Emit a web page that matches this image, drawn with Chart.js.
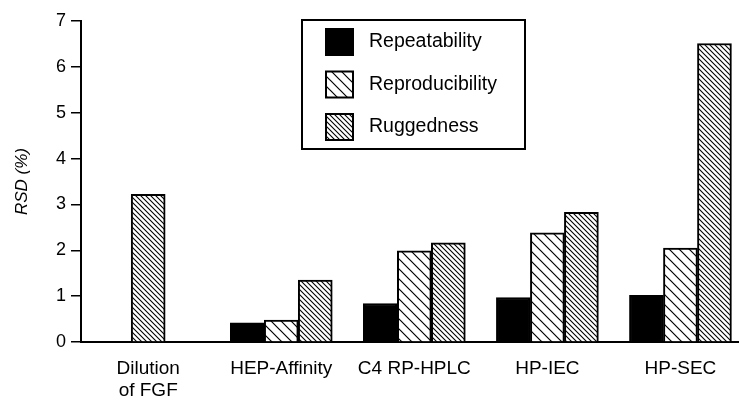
<!DOCTYPE html>
<html>
<head>
<meta charset="utf-8">
<script src="https://cdn.jsdelivr.net/npm/chart.js@4/dist/chart.umd.min.js"></script>
<style>
  html, body { margin: 0; padding: 0; background: #fff; overflow: hidden; }
  #wrap { width: 739px; height: 401px; position: relative; }
</style>
</head>
<body>
<div id="wrap"><canvas id="c"></canvas></div>
<script>
  // ---- data
  const categories = [['Dilution', 'of FGF'], 'HEP-Affinity', 'C4 RP-HPLC', 'HP-IEC', 'HP-SEC'];
  const repeatability   = [null, 0.42, 0.84, 0.97, 1.02];
  const reproducibility = [null, 0.48, 1.99, 2.38, 2.05];
  const ruggedness      = [3.22, 1.35, 2.16, 2.83, 6.51];
  const yTicks = [0, 1, 2, 3, 4, 5, 6, 7];

  const FONT = '"Liberation Sans", Arial, Helvetica, sans-serif';

  // Diagonal "\" hatch fill, spacing = tile size in px.
  function hatch(s, lw) {
    const c = document.createElement('canvas');
    c.width = c.height = s;
    const g = c.getContext('2d');
    g.fillStyle = '#fff';
    g.fillRect(0, 0, s, s);
    g.strokeStyle = '#000';
    g.lineWidth = lw;
    g.beginPath();
    g.moveTo(-1, -1); g.lineTo(s + 1, s + 1);
    g.moveTo(-1, s - 1); g.lineTo(1, s + 1);
    g.moveTo(s - 1, -1); g.lineTo(s + 1, 1);
    g.stroke();
    return g.createPattern(c, 'repeat');
  }

  const pts = (arr) => arr.map((v, i) => ({ x: i, y: v }));

  const datasets = [
    { label: 'Repeatability',   data: pts(repeatability),   backgroundColor: '#000' },
    { label: 'Reproducibility', data: pts(reproducibility), backgroundColor: hatch(10, 1.2) },
    { label: 'Ruggedness',      data: pts(ruggedness),      backgroundColor: hatch(5, 1.1) },
  ].map(d => ({ ...d, borderColor: '#000', borderWidth: 2, barThickness: 34, skipNull: true }));

  // Boxed legend drawn inside the plot area, like the original figure.
  const boxLegend = {
    id: 'boxLegend',
    afterDraw(chart) {
      const ctx = chart.ctx;
      const x0 = 302, y0 = 20, w = 223, h = 129;
      ctx.save();
      ctx.fillStyle = '#fff';
      ctx.fillRect(x0, y0, w, h);
      ctx.strokeStyle = '#000';
      ctx.lineWidth = 2;
      ctx.strokeRect(x0, y0, w, h);
      ctx.font = '19.5px ' + FONT;
      ctx.textBaseline = 'middle';
      chart.data.datasets.forEach((ds, i) => {
        const sy = y0 + 9 + i * 42.5;
        ctx.fillStyle = ds.backgroundColor;
        ctx.fillRect(326, sy, 27, 26);
        ctx.lineWidth = 2;
        ctx.strokeRect(326, sy, 27, 26);
        ctx.fillStyle = '#000';
        ctx.fillText(ds.label, 369, sy + 13);
      });
      ctx.restore();
    }
  };

  new Chart(document.getElementById('c'), {
    type: 'bar',
    data: { datasets },
    plugins: [boxLegend],
    options: {
      responsive: true, maintainAspectRatio: false, animation: false,
      layout: { padding: { top: 21, right: 0, bottom: 0, left: 0 } },
      plugins: { legend: { display: false }, tooltip: { enabled: false } },
      scales: {
        x: {
          type: 'linear', min: -0.505, max: 4.44, offset: false,
          afterFit: (s) => { s.height = 59; },
          grid: { display: true, offset: false, drawOnChartArea: false, drawTicks: false },
          border: { display: true, color: '#000', width: 2 },
          ticks: {
            stepSize: 1, includeBounds: false, autoSkip: false, maxRotation: 0,
            color: '#000', padding: 16,
            font: { family: FONT, size: 19, lineHeight: 1.15 },
            callback: (v) => Number.isInteger(v) && categories[v] ? categories[v] : '',
          },
        },
        y: {
          min: yTicks[0], max: yTicks[yTicks.length - 1],
          afterFit: (s) => { s.width = 81; },
          afterBuildTicks: (s) => { s.ticks = yTicks.map(v => ({ value: v })); },
          grid: { drawOnChartArea: false, drawTicks: true, tickLength: 10, color: '#000', lineWidth: 1.5 },
          border: { display: true, color: '#000', width: 2 },
          ticks: { color: '#000', padding: 5, font: { family: FONT, size: 18 } },
          title: {
            display: true, text: 'RSD (%)', color: '#000',
            font: { family: FONT, size: 17, style: 'italic' },
            padding: { top: 12, bottom: 0 },
          },
        },
      },
    },
  });
</script>
</body>
</html>
